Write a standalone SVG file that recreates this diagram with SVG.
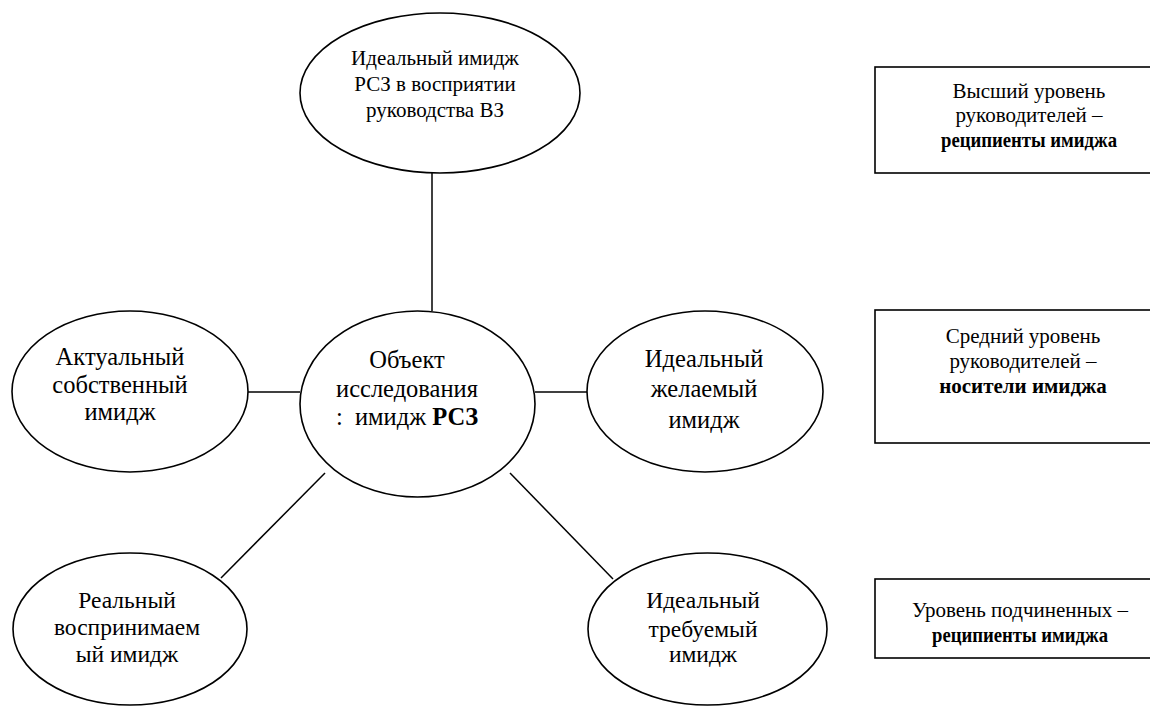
<svg xmlns="http://www.w3.org/2000/svg" width="1150" height="707" viewBox="0 0 1150 707">
<style>
.n{fill:#fff;stroke:#000;stroke-width:1.6}
.c{stroke:#000;stroke-width:1.5;fill:none}
text{font-family:"Liberation Serif","Times New Roman",serif;fill:#000;text-anchor:middle}
.tm{font-size:24.5px}
.tb{font-size:23.5px}
.tt{font-size:21px}
.tx{font-size:21px}
.b{font-weight:bold}
</style>
<rect width="1150" height="707" fill="#fff"/>
<g id="connectors">
<line class="c" x1="432" y1="173" x2="432" y2="311"/>
<line class="c" x1="248" y1="392" x2="300" y2="392"/>
<line class="c" x1="535" y1="392" x2="588" y2="392"/>
<line class="c" x1="325" y1="473" x2="221" y2="578"/>
<line class="c" x1="510" y1="473" x2="613" y2="579"/>
</g>
<g id="top">
<ellipse class="n" cx="440" cy="93" rx="140" ry="80"/>
<text class="tt" x="435" y="65">Идеальный имидж</text>
<text class="tt" x="435" y="91">РСЗ в восприятии</text>
<text class="tt" x="435" y="117">руководства ВЗ</text>
</g>
<g id="center">
<ellipse class="n" cx="417.5" cy="404" rx="117.5" ry="93"/>
<text class="tm" x="407" y="368">Объект</text>
<text class="tm" x="407" y="397">исследования</text>
<text class="tm" x="407" y="425">:&#160; имидж <tspan class="b">РСЗ</tspan></text>
</g>
<g id="left">
<ellipse class="n" cx="130" cy="391.5" rx="118" ry="80.5"/>
<text class="tm" x="120" y="365">Актуальный</text>
<text class="tm" x="120" y="393">собственный</text>
<text class="tm" x="120" y="420">имидж</text>
</g>
<g id="right">
<ellipse class="n" cx="705" cy="391.5" rx="118" ry="80.5"/>
<text class="tm" x="704" y="367">Идеальный</text>
<text class="tm" x="704" y="397">желаемый</text>
<text class="tm" x="704" y="428">имидж</text>
</g>
<g id="bottom-left">
<ellipse class="n" cx="130" cy="629" rx="117" ry="76"/>
<text class="tb" x="127" y="608">Реальный</text>
<text class="tb" x="127" y="635">воспринимаем</text>
<text class="tb" x="127" y="662">ый имидж</text>
</g>
<g id="bottom-right">
<ellipse class="n" cx="707.5" cy="629" rx="119.5" ry="76"/>
<text class="tb" x="703" y="608">Идеальный</text>
<text class="tb" x="703" y="637">требуемый</text>
<text class="tb" x="703" y="662">имидж</text>
</g>
<g id="box-top">
<rect class="n" x="875" y="67" width="300" height="106"/>
<text class="tx" x="1029" y="98">Высший уровень</text>
<text class="tx" x="1029" y="122">руководителей –</text>
<text class="tx b" x="1029" y="147" textLength="176" lengthAdjust="spacingAndGlyphs">реципиенты имиджа</text>
</g>
<g id="box-middle">
<rect class="n" x="875" y="310" width="300" height="133"/>
<text class="tx" x="1023" y="343">Средний уровень</text>
<text class="tx" x="1023" y="368">руководителей –</text>
<text class="tx b" x="1023" y="393">носители имиджа</text>
</g>
<g id="box-bottom">
<rect class="n" x="875" y="579" width="300" height="79"/>
<text class="tx" x="1020" y="617">Уровень подчиненных –</text>
<text class="tx b" x="1020" y="642" textLength="176" lengthAdjust="spacingAndGlyphs">реципиенты имиджа</text>
</g>
</svg>
